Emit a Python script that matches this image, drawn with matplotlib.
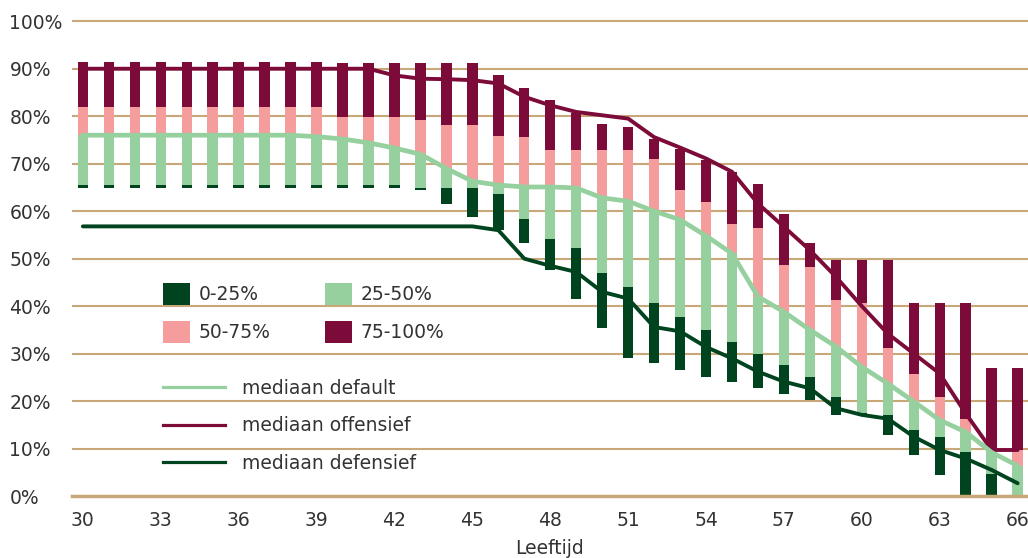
import matplotlib
matplotlib.use("Agg")
import matplotlib.pyplot as plt
from matplotlib.patches import Patch
from matplotlib.lines import Line2D
import numpy as np

# --- data ---
ages = list(range(30, 67))

p_max = [91.4] * 10 + [91.2] * 6 + [88.6, 85.9, 83.5, 80.6, 78.3, 77.8, 75.3, 73.2, 70.7, 68.3,
                                    65.8, 59.5, 53.2, 49.7, 49.7, 49.7, 40.6, 40.6, 40.6, 26.9, 26.9]
p_75 = [82.0] * 10 + [79.9, 79.9, 79.9, 79.2, 78.2, 78.2, 75.8, 75.6, 72.8, 72.8, 72.8, 72.8,
                      70.9, 64.4, 62.0, 57.4, 56.4, 48.6, 48.3, 41.3, 40.6, 31.1, 25.8, 20.9,
                      16.3, 9.6, 9.7]
med_default = [76.0] * 9 + [75.7, 75.2, 74.4, 73.3, 72.0, 69.0, 66.3, 65.5, 65.1, 65.1, 64.9,
                            62.8, 62.1, 60.0, 58.2, 54.8, 51.1, 42.0, 38.8, 35.0, 31.5, 27.2,
                            23.7, 19.9, 16.0, 13.5, 9.2, 6.4]
p_25 = [65.5] * 13 + [64.9, 64.8, 64.8, 63.7, 58.4, 54.2, 52.3, 46.9, 44.1, 40.6, 37.7, 34.9,
                      32.5, 30.0, 27.6, 25.1, 20.8, 17.4, 17.1, 13.9, 12.5, 9.3, 4.6, 0.0]
p_min = [64.9] * 13 + [64.4, 61.6, 58.8, 56.0, 53.3, 47.7, 41.6, 35.3, 29.0, 28.0, 26.5, 25.1,
                       24.1, 22.7, 21.6, 20.2, 17.1, 17.0, 12.8, 8.6, 4.4, 0.0, 0.0, 0.0]

med_offensief = [90.0] * 12 + [88.6, 87.9, 87.8, 87.6, 86.9, 84.1, 82.3, 80.9, 80.2, 79.5, 75.6,
                               73.4, 71.1, 68.3, 61.6, 56.7, 51.8, 46.2, 40.0, 34.2, 30.0, 25.8,
                               17.4, 9.7, 9.7]
med_defensief = [56.8] * 16 + [56.0, 50.0, 48.5, 47.2, 43.0, 41.6, 35.6, 34.7, 31.4, 29.0, 26.2,
                               24.1, 22.7, 18.5, 17.1, 16.3, 12.5, 9.7, 7.9, 5.5, 2.7]

band_labels = ["0-25%", "25-50%", "50-75%", "75-100%"]
line_labels = ["mediaan default", "mediaan offensief", "mediaan defensief"]
x_ticks = list(range(30, 67, 3))

# --- colours ---
DARK_GREEN = "#00431F"
LIGHT_GREEN = "#96D09F"
PINK = "#F59C9C"
DARK_RED = "#7C0B39"
GRID = "#C8A878"
TEXT = "#333333"

plt.rcParams["font.family"] = ["DejaVu Sans"]
FS = 13.5

fig = plt.figure(figsize=(10.28, 5.58), dpi=100)
# top slightly above 100% so the top gridline is not clipped
ax = fig.add_axes([0.070, 0.111, 0.930, 0.856])

x = np.array(ages)
lo = np.array(p_min)
q1 = np.array(p_25)
q2 = np.array(med_default)
q3 = np.array(p_75)
hi = np.array(p_max)

w = 0.4
segments = [(lo, q1, DARK_GREEN), (q1, q2, LIGHT_GREEN), (q2, q3, PINK), (q3, hi, DARK_RED)]
for bottom, top, col in segments:
    ax.bar(x, top - bottom, bottom=bottom, width=w, color=col, linewidth=0, zorder=2)

ax.plot(x, med_defensief, color=DARK_GREEN, lw=2.8, zorder=3, solid_capstyle="round")
ax.plot(x, med_offensief, color=DARK_RED, lw=2.8, zorder=3, solid_capstyle="round")
ax.plot(x, med_default, color=LIGHT_GREEN, lw=3.4, zorder=4, solid_capstyle="round")

ax.set_xlim(29.58, 66.4)
ax.set_ylim(0, 100.6)
ax.set_yticks(range(0, 101, 10))
ax.set_yticklabels([f"{v}%" for v in range(0, 101, 10)])
ax.set_xticks(x_ticks)
ax.set_xticklabels([str(v) for v in x_ticks])
ax.tick_params(axis="both", length=0, labelsize=FS, colors=TEXT)
ax.tick_params(axis="y", pad=45)
ax.tick_params(axis="x", pad=11)
for lab in ax.get_yticklabels():
    lab.set_horizontalalignment("left")

ax.grid(axis="y", color=GRID, lw=1.5, zorder=0)
ax.set_axisbelow(True)
for s in ["left", "right", "top"]:
    ax.spines[s].set_visible(False)
ax.spines["bottom"].set_color(GRID)
ax.spines["bottom"].set_linewidth(2.5)
ax.spines["bottom"].set_zorder(5)

ax.set_xlabel("Leeftijd", fontsize=FS, color=TEXT, labelpad=6)

# legends: colour bands (2 columns) + median lines
band_colors = [DARK_GREEN, LIGHT_GREEN, PINK, DARK_RED]
band_handles = [Patch(facecolor=c, edgecolor="none") for c in band_colors]
order = [0, 2, 1, 3]
leg1 = ax.legend([band_handles[i] for i in order], [band_labels[i] for i in order],
                 ncol=2, loc="upper left", bbox_to_anchor=(0.0952, 0.447), frameon=False,
                 fontsize=FS, handlelength=1.45, handleheight=1.45, labelcolor=TEXT,
                 columnspacing=2.9, handletextpad=0.45, labelspacing=0.85,
                 borderpad=0, borderaxespad=0)
ax.add_artist(leg1)

line_handles = [Line2D([], [], color=c, lw=2.3) for c in [LIGHT_GREEN, DARK_RED, DARK_GREEN]]
ax.legend(line_handles, line_labels, loc="upper left", bbox_to_anchor=(0.0952, 0.246),
          frameon=False, fontsize=FS, handlelength=3.3, labelcolor=TEXT,
          handletextpad=0.9, labelspacing=1.0, borderpad=0, borderaxespad=0)

fig.savefig("out.png", dpi=100)
